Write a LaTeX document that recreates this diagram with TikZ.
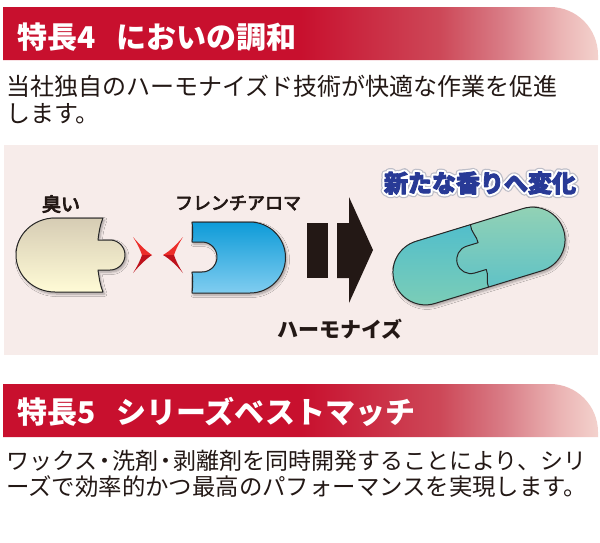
\documentclass[tikz,border=0pt]{standalone}
\usepackage{fontspec}
\setmainfont{Noto Sans CJK JP}
\usetikzlibrary{shadows.blur}
\definecolor{crim}{RGB}{200,16,46}
\definecolor{crimb}{RGB}{205,72,88}
\definecolor{crimc}{RGB}{216,122,132}
\definecolor{crimd}{RGB}{235,180,180}
\definecolor{crime}{RGB}{243,210,205}
\definecolor{panelc}{RGB}{247,236,234}
\definecolor{ink}{RGB}{35,24,21}
\definecolor{navy}{RGB}{40,58,150}
\definecolor{halo}{RGB}{190,190,200}
\definecolor{creamtop}{RGB}{214,204,180}
\definecolor{creambot}{RGB}{255,251,214}
\definecolor{bluetop}{RGB}{14,155,216}
\definecolor{bluebot}{RGB}{128,205,240}
\definecolor{tealA}{RGB}{82,190,203}
\definecolor{greenA}{RGB}{125,206,182}
\definecolor{greenB}{RGB}{148,210,180}
\definecolor{redhi}{RGB}{236,46,42}
\definecolor{redlo}{RGB}{190,18,28}
\pgfdeclarehorizontalshading{bannershade}{100bp}{color(0bp)=(crim); color(50bp)=(crim); color(61.7bp)=(crimb); color(66.8bp)=(crimc); color(71.8bp)=(crimd); color(75bp)=(crime); color(100bp)=(crime)}
\newcommand\hdot{\makebox[0.65em][c]{・}}
\newcommand\strokeon[1]{\special{pdf:literal direct 1 j 1 J #1 w 1 Tr}}
\newcommand\heavyon[1]{\special{pdf:literal direct 1 j 1 J #1 w 2 Tr}}
\newcommand\strokeoff{\special{pdf:literal direct 0 Tr}}
\tikzset{
  piece/.style={draw=black!85, line width=1pt, line join=round},
  shad/.style={blur shadow={shadow xshift=1.5pt, shadow yshift=-2pt, shadow blur steps=6, shadow blur radius=2.5pt, shadow opacity=35}},
  lbl/.style={inner sep=0, text=ink},
  headtxt/.style={inner sep=0, text=white, anchor=base west, font=\fontsize{30}{36}\selectfont\bfseries},
  bodytxt/.style={inner sep=0, text=ink, anchor=base west},
  newfont/.style={inner sep=0, font=\fontsize{24}{28}\selectfont\bfseries},
  blackshape/.style={fill=ink},
}
\begin{document}
\begin{tikzpicture}[x=1pt,y=-1pt]
\useasboundingbox (0,0) rectangle (600,542);
\fill[white] (0,0) rectangle (600,542);
% banners
\shade[shading=bannershade] (3,7) -- (550,7) arc[start angle=-90,end angle=0,radius=48] -- (598,60) -- (3,60) -- cycle;
\shade[shading=bannershade] (3,384) -- (550,384) arc[start angle=-90,end angle=0,radius=48] -- (598,437) -- (3,437) -- cycle;
\node[headtxt] (h1) at (17,48) {特長4\hspace{0.7em}においの調和};
\node[headtxt] (h2) at (17,423) {特長5\hspace{0.7em}シリーズベストマッチ};
% body text
\node[bodytxt, font=\fontsize{24}{28}\selectfont] (t1) at (6,95) {当社独自のハーモナイズド技術が快適な作業を促進};
\node[bodytxt, font=\fontsize{24}{28}\selectfont] (t2) at (6,122) {します。};
\node[bodytxt, font=\fontsize{23}{28}\selectfont] (t3) at (6,469) {ワックス\hdot 洗剤\hdot 剥離剤を同時開発することにより、シリ};
\node[bodytxt, font=\fontsize{23.4}{28}\selectfont] (t4) at (6,495) {ーズで効率的かつ最高のパフォーマンスを実現します。};
% panel
\fill[panelc] (4,145) rectangle (598,355);
% labels
\node[lbl, font=\fontsize{19}{22}\selectfont] (smell) at (61,204) {\heavyon{0.9}臭い\strokeoff};
\node[lbl, font=\fontsize{18}{22}\selectfont] (aroma) at (238,203) {\heavyon{0.7}フレンチアロマ\strokeoff};
\node[lbl, font=\fontsize{21}{24}\selectfont\bfseries] (harm) at (340,329) {ハーモナイズ};
% new aroma title with outline
\node[newfont, text=halo] at (480,183) {\strokeon{7.5}新たな香りへ変化\strokeoff};
\node[newfont, text=white] at (480,183) {\strokeon{5}新たな香りへ変化\strokeoff};
\node[newfont, text=navy] (newt) at (480,183) {\heavyon{0.9}新たな香りへ変化\strokeoff};
% cream piece
\shade[piece, shad, top color=creamtop, bottom color=creambot]
  (103,218) -- (55,218) arc[start angle=270,end angle=90,x radius=39,y radius=37]
  -- (103,292) .. controls (100,285) and (99,277) .. (98,270) -- (110,270)
  arc[start angle=90,end angle=-90,radius=15] -- (98,240)
  .. controls (99,232) and (100,225) .. (103,218) -- cycle;
% blue piece
\shade[piece, shad, top color=bluetop, bottom color=bluebot]
  (192,222) -- (250,222) arc[start angle=-90,end angle=90,radius=35.5]
  -- (192,293) .. controls (193,285) and (193,278) .. (192,272) -- (202,272)
  arc[start angle=90,end angle=-90,radius=15] -- (192,242)
  .. controls (193,236) and (193,229) .. (192,222) -- cycle;
% chevrons
\fill[redhi] (133,237) .. controls (140,245) and (146,251) .. (152,255) -- (142,255) .. controls (140,249) and (137,243) .. (133,237) -- cycle;
\fill[redlo] (133,273) .. controls (140,265) and (146,259) .. (152,255) -- (142,255) .. controls (140,261) and (137,267) .. (133,273) -- cycle;
\fill[redhi] (183,237) .. controls (176,245) and (170,251) .. (163,255) -- (174,255) .. controls (176,249) and (179,243) .. (183,237) -- cycle;
\fill[redlo] (183,273) .. controls (176,265) and (170,259) .. (163,255) -- (174,255) .. controls (176,261) and (179,267) .. (183,273) -- cycle;
% black arrow
\fill[blackshape] (307,223) rectangle (328,278);
\fill[blackshape] (337,223) -- (349,223) -- (349,197) -- (373,250) -- (349,303) -- (349,278) -- (337,278) -- cycle;
% capsule
\begin{scope}[shift={(479,256)}, rotate=17]
  \shade[shad, top color=greenB, bottom color=tealA]
    (-56,-32.5) -- (56,-32.5) arc[start angle=-90,end angle=90,radius=32.5]
    -- (-56,32.5) arc[start angle=90,end angle=270,radius=32.5] -- cycle;
  \shade[top color=tealA, bottom color=greenA]
    (-56,-32.5) -- (1,-32.5) .. controls (-1,-26) and (4,-19) .. (3,-13) -- (-9,-13)
    arc[start angle=-90,end angle=-270,radius=14] -- (3,15) .. controls (4,21) and (-1,26) .. (0,32.5)
    -- (-56,32.5) arc[start angle=90,end angle=270,radius=32.5] -- cycle;
  \draw[piece] (1,-32.5) .. controls (-1,-26) and (4,-19) .. (3,-13) -- (-9,-13)
    arc[start angle=-90,end angle=-270,radius=14] -- (3,15) .. controls (4,21) and (-1,26) .. (0,32.5);
  \draw[piece] (-56,-32.5) -- (56,-32.5) arc[start angle=-90,end angle=90,radius=32.5]
    -- (-56,32.5) arc[start angle=90,end angle=270,radius=32.5] -- cycle;
\end{scope}
\end{tikzpicture}
\end{document}
